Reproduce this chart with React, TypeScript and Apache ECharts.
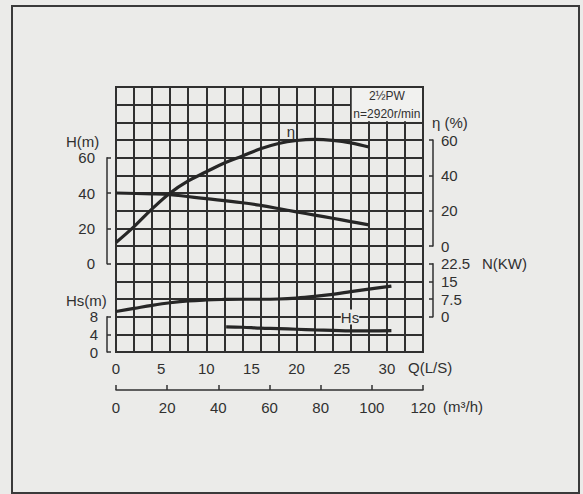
import React, { useEffect, useRef } from "react";
import * as echarts from "echarts";

// ---- data ----
const Q_H = [0, 4, 6, 10, 14, 16, 18, 20, 22, 24, 26, 28];
const H_VALUES = [40, 39.5, 39, 36.8, 34.5, 33, 31.2, 29.3, 27.5, 25.7, 23.8, 22];

const Q_ETA = [0, 2, 4, 6, 8, 10, 12, 14, 16, 18, 20, 22, 24, 26, 28];
const ETA_VALUES = [2, 11, 21, 30, 36.8, 42, 47, 51, 55, 58, 59.7, 60.3, 59.8, 58.4, 56];

const Q_N = [0, 2, 4, 6, 8, 10, 12, 14, 16, 18, 20, 22, 24, 26, 28, 30.5];
const N_VALUES = [2.2, 3.5, 4.8, 5.9, 6.7, 7.1, 7.3, 7.4, 7.4, 7.5, 7.9, 8.6, 9.5, 10.6, 11.7, 13];

const Q_HS = [12.2, 14, 16, 18, 20, 22, 24, 26, 28, 30.5];
const HS_VALUES = [5.7, 5.6, 5.4, 5.3, 5.15, 5.0, 4.9, 4.8, 4.8, 4.85];

// axis ranges / tick labels
const Q_RANGE = [0, 34];
const Q_LABEL_STEP = 5;
const M3H_RANGE = [0, 120];
const M3H_STEP = 20;
const H_TICKS = [0, 60, 20];
const HS_TICKS = [0, 8, 4];
const ETA_TICKS = [0, 60, 20];
const N_TICKS = [0, 22.5, 7.5];

const TITLE_LINES = ["2½PW", "n=2920r/min"];
const BOX_Q = [26, 34];
const BOX_H = [80, 100];

// ---- layout ----
const W = 583;
const HGT = 494;
const GL = 116;
const GR = 423;
const GT = 87;
const GB = 352;
const ROWS = 15;
const ROW = (GB - GT) / ROWS;
const INK = "#303030";
const PAPER = "#ebebe9";
const FONT = '"Liberation Sans", Arial, sans-serif';

const pairs = (xs: number[], ys: number[]) => xs.map((x, i) => [x, ys[i]]);

export default function App() {
  const ref = useRef<HTMLDivElement>(null);
  useEffect(() => {
    if (!ref.current) return;
    const chart = echarts.init(ref.current, undefined, { renderer: "svg" });

    const subGrid = (rowTop: number, rows: number) => ({
      left: GL,
      right: W - GR,
      top: GT + rowTop * ROW,
      height: rows * ROW,
      outerBoundsMode: "none",
    });
    const lbl = { fontSize: 15, color: INK, fontFamily: FONT };
    const bracketAxis = (gridIndex: number, t: number[], pos: string, offset: number, margin: number) => ({
      type: "value",
      gridIndex,
      min: t[0],
      max: t[1],
      interval: t[2],
      position: pos,
      offset,
      axisLine: { show: true, onZero: false, lineStyle: { color: INK, width: 1.5 } },
      axisTick: { show: true, inside: true, length: 4, lineStyle: { color: INK, width: 1.5 } },
      axisLabel: { ...lbl, margin },
      splitLine: { show: false },
    });
    const hiddenX = (gridIndex: number) => ({ type: "value", gridIndex, min: 0, max: 1, show: false });
    const hiddenY = (min: number, max: number) => ({ type: "value", gridIndex: 0, min, max, show: false });

    const dq = (Q_RANGE[1] - Q_RANGE[0]) / (GR - GL);
    const dh = 150 / (GB - GT);

    const curve = (name: string, data: number[][], yAxisIndex: number, extra: any = {}) => ({
      type: "line",
      name,
      data,
      xAxisIndex: 0,
      yAxisIndex,
      smooth: 0.4,
      symbol: "none",
      clip: false,
      lineStyle: { color: "#262626", width: 3.2 },
      ...extra,
    });

    const txt = (text: string, x: number, y: number, align = "left", bg?: string) => ({
      type: "text",
      z: 10,
      style: {
        text,
        x,
        y,
        align,
        verticalAlign: "middle",
        font: `15px ${FONT}`,
        fill: INK,
        backgroundColor: bg,
      },
    });

    chart.setOption({
      animation: false,
      backgroundColor: PAPER,
      grid: [
        { left: GL, right: W - GR, top: GT, bottom: HGT - GB, show: true, borderColor: INK, borderWidth: 2, outerBoundsMode: "none" },
        subGrid(4, 6), // H
        subGrid(13, 2), // Hs
        subGrid(3, 6), // eta
        subGrid(10, 3), // N
      ],
      xAxis: [
        {
          type: "value",
          gridIndex: 0,
          min: Q_RANGE[0],
          max: Q_RANGE[1],
          interval: 2,
          axisLine: { show: false, onZero: false },
          axisTick: { show: false },
          axisLabel: { show: false },
          splitLine: { show: true, lineStyle: { color: INK, width: 2 } },
        },
        {
          type: "value",
          gridIndex: 0,
          min: Q_RANGE[0],
          max: Q_RANGE[1],
          interval: Q_LABEL_STEP,
          position: "bottom",
          axisLine: { show: false, onZero: false },
          axisTick: { show: false },
          splitLine: { show: false },
          axisLabel: {
            ...lbl,
            margin: 9,
            showMaxLabel: false,
            formatter: (v: number) => (v % Q_LABEL_STEP === 0 ? String(v) : ""),
          },
        },
        {
          type: "value",
          gridIndex: 0,
          min: M3H_RANGE[0],
          max: M3H_RANGE[1],
          interval: M3H_STEP,
          position: "bottom",
          offset: 38,
          axisLine: { show: true, onZero: false, lineStyle: { color: INK, width: 1.5 } },
          axisTick: { show: true, inside: true, length: 5, lineStyle: { color: INK, width: 1.5 } },
          splitLine: { show: false },
          axisLabel: { ...lbl, margin: 10 },
        },
        hiddenX(1),
        hiddenX(2),
        hiddenX(3),
        hiddenX(4),
      ],
      yAxis: [
        {
          type: "value",
          gridIndex: 0,
          min: -50,
          max: 100,
          interval: 10,
          axisLine: { show: false, onZero: false },
          axisTick: { show: false },
          axisLabel: { show: false },
          splitLine: { show: true, lineStyle: { color: INK, width: 2 } },
        },
        hiddenY(-60, 90),
        hiddenY(-15, 97.5),
        hiddenY(0, 60),
        bracketAxis(1, H_TICKS, "left", 9, 12),
        bracketAxis(2, HS_TICKS, "left", 9, 9),
        bracketAxis(3, ETA_TICKS, "right", 10, 8),
        bracketAxis(4, N_TICKS, "right", 10, 8),
      ],
      series: [
        curve("H", pairs(Q_H, H_VALUES), 0, {
          markArea: {
            silent: true,
            itemStyle: { color: "#f1f1ef", opacity: 1 },
            label: {
              show: true,
              position: "inside",
              color: INK,
              fontSize: 12,
              lineHeight: 18,
              fontFamily: FONT,
              formatter: TITLE_LINES.join("\n"),
            },
            data: [[{ coord: [BOX_Q[0] + dq, BOX_H[0] + dh] }, { coord: [BOX_Q[1] - dq, BOX_H[1] - dh] }]],
          },
        }),
        curve("η", pairs(Q_ETA, ETA_VALUES), 1),
        curve("N", pairs(Q_N, N_VALUES), 2),
        curve("Hs", pairs(Q_HS, HS_VALUES), 3),
      ],
      graphic: [
        {
          type: "rect",
          z: 10,
          shape: { x: 12, y: 6, width: 567, height: 487 },
          style: { fill: "none", stroke: "#3a3a3a", lineWidth: 2 },
        },
        txt("H(m)", 66, 141),
        txt("Hs(m)", 66, 300),
        txt("η (%)", 432, 122),
        txt("N(KW)", 482, 263),
        txt("Q(L/S)", 408, 367),
        txt("(m³/h)", 443, 406),
        txt("η", 291, 131, "center"),
        txt("Hs", 350, 317, "center", PAPER),
      ],
    });
    return () => chart.dispose();
  }, []);
  return <div ref={ref} style={{ position: "fixed", left: 0, top: 0, width: W, height: HGT }} />;
}
